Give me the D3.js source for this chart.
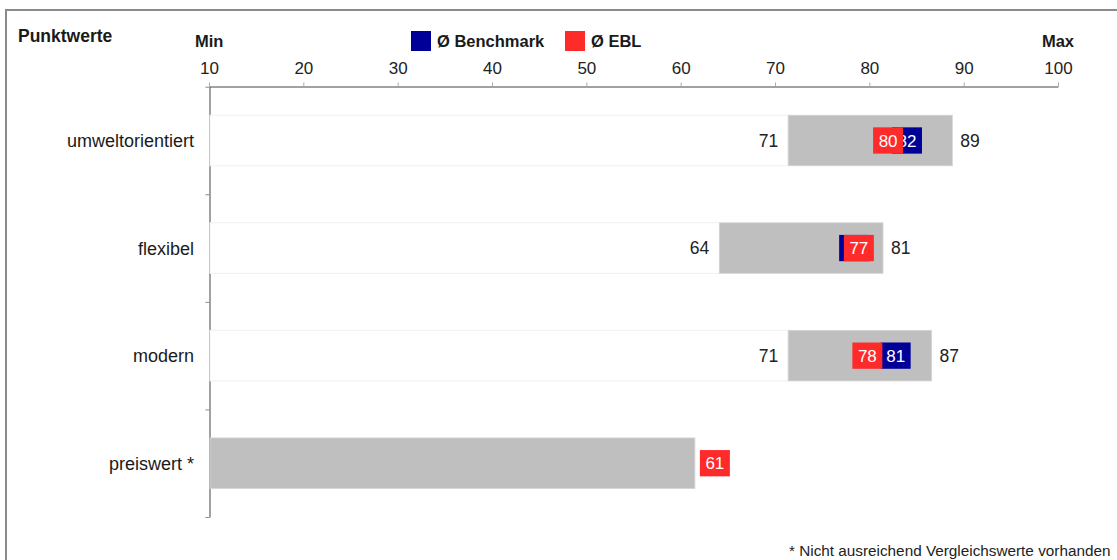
<!DOCTYPE html>
<html>
<head>
<meta charset="utf-8">
<script src="https://cdn.jsdelivr.net/npm/d3@7"></script>
<style>
  body { margin: 0; background: #fff; }
  svg { display: block; font-family: "Liberation Sans", Arial, sans-serif; }
</style>
</head>
<body>
<script>
let width = 1117
let height = 560

// Werte
let categories = ['umweltorientiert', 'flexibel', 'modern', 'preiswert *']
let minValues = [71.4, 64.1, 71.4, null]
let maxValues = [88.8, 81.45, 86.6, null]
let eblValues = [80.4, 77.3, 78.2, 61.4]
let benchValues = [82.4, 76.8, 81.2, null]
let tickValues = [10, 20, 30, 40, 50, 60, 70, 80, 90, 100]

let rows = categories.map((c, i) => ({
  name: c,
  min: minValues[i],
  max: maxValues[i],
  ebl: eblValues[i],
  bench: benchValues[i]
}))

let svg = d3.select('body')
  .append('svg')
  .attr('width', width)
  .attr('height', height)

// Rahmen
svg.append('rect')
  .attr('x', 6)
  .attr('y', 10)
  .attr('width', width + 50)
  .attr('height', height + 50)
  .attr('fill', 'none')
  .attr('stroke', '#8a8a8a')
  .attr('stroke-width', 2)

let x = d3.scaleLinear()
  .domain([10, 100])
  .range([209, 1058])

let y = d3.scaleBand()
  .domain(categories)
  .range([86.7, 517])
  .paddingInner(0.53)
  .paddingOuter(0.265)

let fmt = v => d3.format('d')(Math.round(v))

// obere Achse
let xAxis = svg.append('g')
  .attr('transform', 'translate(0,86.5)')
  .call(d3.axisTop(x).tickValues(tickValues).tickSize(4).tickSizeOuter(0).tickPadding(9))
xAxis.select('.domain').attr('stroke', '#444')
xAxis.selectAll('.tick line').attr('stroke', '#aaa')
xAxis.selectAll('.tick text')
  .attr('font-size', 17)
  .attr('font-family', '"Liberation Sans", Arial, sans-serif')
  .attr('fill', '#222')

// linke Achse mit Trennstrichen
let yIdx = d3.scaleLinear().domain([0, categories.length]).range(y.range())
let yAxis = svg.append('g')
  .attr('transform', 'translate(209.5,0)')
  .call(d3.axisLeft(yIdx).ticks(categories.length).tickSize(4).tickSizeOuter(0).tickFormat(''))
yAxis.select('.domain').attr('stroke', '#444')
yAxis.selectAll('.tick line').attr('stroke', '#888')

let bars = svg.append('g')
  .selectAll('g')
  .data(rows)
  .enter()
  .append('g')

// unsichtbares Segment bis Min
bars.filter(d => d.min !== null)
  .append('rect')
  .attr('x', x(10) + 1)
  .attr('y', d => y(d.name))
  .attr('width', d => x(d.min) - x(10) - 1)
  .attr('height', y.bandwidth())
  .attr('fill', '#fff')
  .attr('stroke', '#f0f0f0')

// Spannweite Min - Max
bars.filter(d => d.min !== null)
  .append('rect')
  .attr('x', d => x(d.min))
  .attr('y', d => y(d.name))
  .attr('width', d => x(d.max) - x(d.min))
  .attr('height', y.bandwidth())
  .attr('fill', '#bfbfbf')
  .attr('stroke', '#d4d4d4')
  .attr('stroke-width', 0.8)

// nur EBL-Wert (keine Vergleichswerte)
bars.filter(d => d.min === null)
  .append('rect')
  .attr('x', x(10) + 1)
  .attr('y', d => y(d.name))
  .attr('width', d => x(d.ebl) - x(10))
  .attr('height', y.bandwidth())
  .attr('fill', '#bfbfbf')
  .attr('stroke', '#d4d4d4')
  .attr('stroke-width', 0.8)

// Min / Max Beschriftung
bars.filter(d => d.min !== null)
  .append('text')
  .attr('x', d => x(d.min) - 10)
  .attr('y', d => y(d.name) + y.bandwidth() / 2)
  .attr('dy', '0.36em')
  .attr('text-anchor', 'end')
  .attr('font-size', 17.5)
  .attr('fill', '#222')
  .text(d => fmt(d.min))

bars.filter(d => d.max !== null)
  .append('text')
  .attr('x', d => x(d.max) + 8)
  .attr('y', d => y(d.name) + y.bandwidth() / 2)
  .attr('dy', '0.36em')
  .attr('font-size', 17.5)
  .attr('fill', '#222')
  .text(d => fmt(d.max))

let boxW = 30
let boxH = y.bandwidth() * 0.52

function addBox (sel, key, color, shift, showLabel) {
  let g = sel.filter(d => d[key] !== null)
    .append('g')
    .attr('transform', d => 'translate(' + (x(d[key]) + shift(d)) + ',' + (y(d.name) + (y.bandwidth() - boxH) / 2) + ')')
  g.append('rect')
    .attr('width', boxW)
    .attr('height', boxH)
    .attr('fill', color)
  g.filter(showLabel)
    .append('text')
    .attr('x', boxW / 2)
    .attr('y', boxH / 2)
    .attr('dy', '0.36em')
    .attr('text-anchor', 'middle')
    .attr('font-size', 17)
    .attr('fill', '#fff')
    .text(d => fmt(d[key]))
}

// Benchmark zuerst, EBL liegt darüber (verdeckte Beschriftung weglassen)
addBox(bars, 'bench', '#000099', d => 0, d => Math.abs(x(d.bench) - x(d.ebl)) > boxW / 2)
addBox(bars, 'ebl', '#ff2a2a', d => d.min === null ? 6 : 0, d => true)

// Titel, Min, Max
svg.append('text')
  .attr('x', 18)
  .attr('y', 42)
  .attr('font-size', 17.5)
  .attr('font-weight', 'bold')
  .attr('fill', '#1a1a1a')
  .text('Punktwerte')

svg.append('text')
  .attr('x', 195)
  .attr('y', 47)
  .attr('font-size', 16.5)
  .attr('font-weight', 'bold')
  .attr('fill', '#1a1a1a')
  .text('Min')

svg.append('text')
  .attr('x', 1074)
  .attr('y', 47)
  .attr('text-anchor', 'end')
  .attr('font-size', 16.5)
  .attr('font-weight', 'bold')
  .attr('fill', '#1a1a1a')
  .text('Max')

// Legende
let legendItems = [
  { label: 'Ø Benchmark', color: '#000099', x: 411 },
  { label: 'Ø EBL', color: '#ff2a2a', x: 565 }
]
let legend = svg.append('g')
  .selectAll('g')
  .data(legendItems)
  .enter()
  .append('g')
  .attr('transform', d => 'translate(' + d.x + ',31)')
legend.append('rect')
  .attr('width', 20)
  .attr('height', 20)
  .attr('fill', d => d.color)
legend.append('text')
  .attr('x', 26)
  .attr('y', 16)
  .attr('font-size', 16.5)
  .attr('font-weight', 'bold')
  .attr('fill', '#1a1a1a')
  .text(d => d.label)

// Kategorienamen
svg.append('g')
  .selectAll('text')
  .data(categories)
  .enter()
  .append('text')
  .attr('x', 194)
  .attr('y', d => y(d) + y.bandwidth() / 2)
  .attr('dy', '0.36em')
  .attr('text-anchor', 'end')
  .attr('font-size', 18)
  .attr('fill', '#1a1a1a')
  .text(d => d)

// Fußnote
svg.append('text')
  .attr('x', 789)
  .attr('y', 556)
  .attr('font-size', 15.3)
  .attr('fill', '#222')
  .text('* Nicht ausreichend Vergleichswerte vorhanden')
</script>
</body>
</html>
